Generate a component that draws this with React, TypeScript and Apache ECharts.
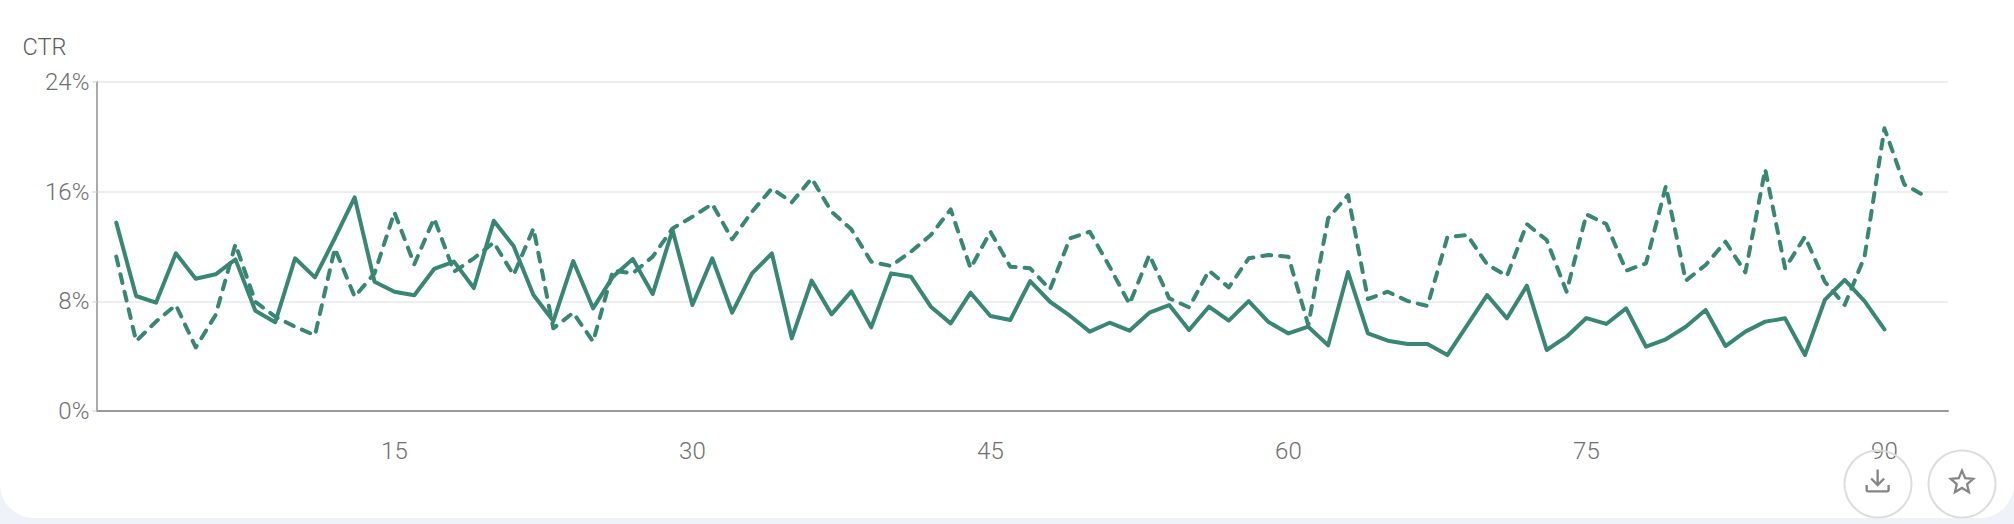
import { useEffect, useRef } from 'react';
import * as echarts from 'echarts';

// CTR per day
const currentCtr = [
  13.74, 8.39, 7.9, 11.5, 9.65, 9.97, 11.06, 7.32, 6.47, 11.14,
  9.75, 12.6, 15.58, 9.43, 8.7, 8.44, 10.36, 10.9, 8.97, 13.88,
  12.03, 8.46, 6.56, 10.94, 7.49, 9.8, 11.09, 8.53, 13.2, 7.73,
  11.14, 7.17, 10.04, 11.5, 5.3, 9.51, 7.05, 8.73, 6.1, 10.04,
  9.8, 7.61, 6.39, 8.63, 6.93, 6.64, 9.48, 7.97, 6.95, 5.79,
  6.44, 5.86, 7.17, 7.73, 5.91, 7.61, 6.59, 8.02, 6.49, 5.66,
  6.15, 4.79, 10.14, 5.66, 5.13, 4.89, 4.89, 4.08, 6.27, 8.46,
  6.76, 9.14, 4.45, 5.42, 6.78, 6.35, 7.49, 4.69, 5.23, 6.15,
  7.37, 4.74, 5.79, 6.52, 6.76, 4.08, 8.1, 9.56, 8.02, 5.96,
];

const previousCtr = [
  11.26, 5.1, 6.52, 7.73, 4.64, 7.0, 12.16, 7.97, 6.88, 6.15,
  5.52, 11.86, 8.34, 10.04, 14.49, 10.7, 14.05, 10.16, 11.14, 12.3,
  9.92, 13.32, 6.03, 7.17, 5.06, 10.24, 10.04, 11.26, 13.32, 14.17,
  15.1, 12.52, 14.54, 16.24, 15.22, 16.97, 14.54, 13.25, 10.89, 10.58,
  11.62, 12.84, 14.71, 10.41, 13.08, 10.53, 10.41, 8.87, 12.59, 13.08,
  10.53, 7.8, 11.38, 8.22, 7.56, 10.24, 9.02, 11.14, 11.38, 11.26,
  6.27, 14.05, 15.75, 8.17, 8.7, 8.02, 7.66, 12.67, 12.84, 10.7,
  9.85, 13.64, 12.47, 8.7, 14.34, 13.64, 10.24, 10.77, 16.41, 9.51,
  10.65, 12.35, 10.11, 17.63, 10.41, 12.72, 9.43, 7.73, 11.26, 20.62,
  16.53, 15.71,
];

const LINE_COLOR = '#398675';
const FONT = 'Roboto';

echarts.graphic.registerShape(
  'downloadIcon',
  echarts.graphic.extendPath('M12 1v16M5.3 10.3L12 17l6.7-6.7M.7 17v5a1.5 1.5 0 0 0 1.5 1.5h19.6a1.5 1.5 0 0 0 1.5-1.5v-5', {}),
);
echarts.graphic.registerShape(
  'starIcon',
  echarts.graphic.extendPath('M22 9.24l-7.19-.62L12 2 9.19 8.63 2 9.24l5.46 4.73L5.82 21 12 17.27 18.18 21l-1.63-7.03L22 9.24z', {}),
);

const toPoints = (values: number[]) => values.map((v, i) => [i + 1, v]);

function App() {
  const divEl = useRef<HTMLDivElement>(null);

  useEffect(() => {
    document.body.style.margin = '0';
    document.body.style.background = '#eff3f9';

    const instance = echarts.init(divEl.current as any, null, { renderer: 'svg' });
    const option: any = {
      animation: false,
      grid: { left: 96.4, right: 66, top: 82, height: 329 },
      xAxis: {
        type: 'value',
        min: 0,
        max: 93.2,
        interval: 15,
        splitLine: { show: false },
        axisTick: { show: false },
        axisLine: { lineStyle: { color: '#999999', width: 2 } },
        axisLabel: {
          color: '#6f6f6f',
          fontFamily: FONT,
          fontWeight: 300,
          fontSize: 24,
          margin: 28,
          formatter: (v: number) => (v > 0 && v % 15 === 0 ? String(v) : ''),
        },
      },
      yAxis: {
        type: 'value',
        min: 0,
        max: 24,
        interval: 8,
        name: 'CTR',
        nameLocation: 'end',
        nameGap: 23,
        nameTextStyle: {
          color: '#5c5c5c',
          fontFamily: FONT,
          fontWeight: 300,
          fontSize: 23.5,
          align: 'right',
          padding: [0, 30, 0, 0],
        },
        axisLine: { show: true, lineStyle: { color: '#aaaaaa', width: 2 } },
        axisTick: { show: true, length: 4, lineStyle: { color: '#e6e6e6', width: 2 } },
        splitLine: { lineStyle: { color: '#eeeeee', width: 2 } },
        axisLabel: {
          color: '#6f6f6f',
          fontFamily: FONT,
          fontWeight: 300,
          fontSize: 24,
          margin: 7,
          formatter: '{value}%',
        },
      },
      series: [
        {
          name: 'Previous CTR',
          type: 'line',
          data: toPoints(previousCtr),
          showSymbol: false,
          lineStyle: { color: LINE_COLOR, width: 4, type: [9, 9], cap: 'round', join: 'round' },
        },
        {
          name: 'CTR',
          type: 'line',
          data: toPoints(currentCtr),
          showSymbol: false,
          lineStyle: { color: LINE_COLOR, width: 4, cap: 'round', join: 'round' },
        },
      ],
      graphic: [
        { type: 'circle', shape: { cx: 1878, cy: 484, r: 33.5 }, style: { fill: 'none', stroke: '#dddddd', lineWidth: 2 }, z: 10 },
        { type: 'circle', shape: { cx: 1962, cy: 484, r: 33.5 }, style: { fill: 'none', stroke: '#dddddd', lineWidth: 2 }, z: 10 },
        { type: 'downloadIcon', x: 1866, y: 468.5, scaleX: 0.97, scaleY: 0.97, style: { fill: 'none', stroke: '#858585', lineWidth: 2.4 }, z: 10 },
        { type: 'starIcon', x: 1948.4, y: 468.4, scaleX: 1.13, scaleY: 1.13, style: { fill: 'none', stroke: '#858585', lineWidth: 2 }, z: 10 },
      ],
    };
    instance.setOption(option);

    return () => {
      instance.dispose();
    };
  }, []);

  return (
    <div style={{ position: 'relative', width: 2014, height: 524, overflow: 'hidden' }}>
      <div
        style={{
          position: 'absolute',
          left: 0,
          top: 0,
          width: 2014,
          height: 518,
          background: '#ffffff',
          borderRadius: '0 0 34px 34px',
        }}
      />
      <div ref={divEl} style={{ position: 'absolute', left: 0, top: 0, width: 2014, height: 524 }} />
    </div>
  );
}

export default App;
